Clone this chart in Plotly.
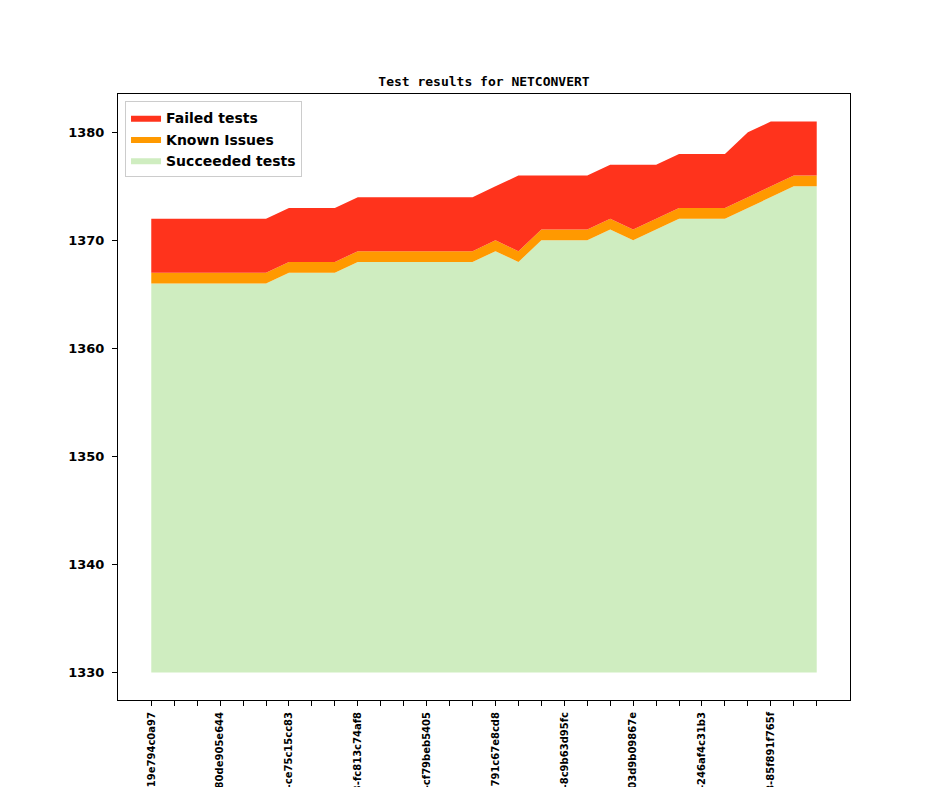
import plotly.graph_objects as go

# Data (one point per commit, 30 commits)
succeeded = [1366, 1366, 1366, 1366, 1366, 1366, 1367, 1367, 1367, 1368,
             1368, 1368, 1368, 1368, 1368, 1369, 1368, 1370, 1370, 1370,
             1371, 1370, 1371, 1372, 1372, 1372, 1373, 1374, 1375, 1375]
known_issues = [1] * 30
failed = [5, 5, 5, 5, 5, 5, 5, 5, 5, 5,
          5, 5, 5, 5, 5, 5, 7, 5, 5, 5,
          5, 6, 5, 5, 5, 5, 6, 6, 5, 5]
baseline = 1330

# Only every third commit gets a label
commit_labels = ["v1_1_0+1803-19e794c0a97", "v1_1_0+1812-80de905e644",
                 "v1_1_0+1825-ce75c15cc83", "v1_1_0+1833-fc813c74af8",
                 "v1_1_0+1840-cf79beb5405", "v1_1_0+1851-791c67e8cd8",
                 "v1_1_0+1860-8c9b63d95fc", "v1_1_0+1871-03d9b09867e",
                 "v1_1_0+1880-246af4c31b3", "v1_1_0+1893-85f891f765f"]
label_every = 3

x = list(range(len(succeeded)))
ticktext = [""] * len(x)
for i, lab in enumerate(commit_labels):
    ticktext[i * label_every] = lab

# cumulative tops of the stacked areas
top_succ = succeeded
top_known = [s + k for s, k in zip(succeeded, known_issues)]
top_failed = [t + f for t, f in zip(top_known, failed)]

fig = go.Figure()
fig.add_trace(go.Scatter(x=x, y=[baseline] * len(x), mode="lines",
                         line=dict(width=0), showlegend=False, hoverinfo="skip"))
fig.add_trace(go.Scatter(x=x, y=top_succ, mode="lines", fill="tonexty",
                         name="Succeeded tests", line=dict(width=0),
                         fillcolor="#cfedc0"))
fig.add_trace(go.Scatter(x=x, y=top_known, mode="lines", fill="tonexty",
                         name="Known Issues", line=dict(width=0),
                         fillcolor="#ff9900"))
fig.add_trace(go.Scatter(x=x, y=top_failed, mode="lines", fill="tonexty",
                         name="Failed tests", line=dict(width=0),
                         fillcolor="#ff331c"))

bold = dict(family="DejaVu Sans", size=13, color="black", weight="bold")

# page has an 8px body margin, so margins are shifted by 8px
fig.update_layout(
    width=944, height=787,
    margin=dict(l=110, r=102, t=86, b=95),
    paper_bgcolor="white", plot_bgcolor="white",
    title=dict(text="Test results for NETCONVERT", x=(110 + 366) / 944,
               xanchor="center", y=1 - 73 / 787, yanchor="middle",
               yref="container",
               font=dict(family="DejaVu Sans Mono", size=13, color="black",
                         weight="bold")),
    legend=dict(x=0.0096, y=0.988, xanchor="left", yanchor="top",
                traceorder="reversed",
                font=dict(family="DejaVu Sans", size=14, color="black",
                          weight="bold"),
                bgcolor="white", bordercolor="#cccccc", borderwidth=1,
                tracegroupgap=0),
    font=bold,
)

fig.update_xaxes(range=[-1.45, 30.45], tickvals=x, ticktext=ticktext,
                 tickangle=-90, ticks="outside", ticklen=5, tickcolor="black",
                 tickfont=dict(family="DejaVu Sans", size=10, color="black",
                               weight="bold"),
                 automargin=False, ticklabelstandoff=2,
                 showgrid=False, zeroline=False, showline=True,
                 linecolor="black", linewidth=1, mirror=True)
fig.update_yaxes(range=[1327.45, 1383.55], tickvals=[1330, 1340, 1350, 1360, 1370, 1380],
                 ticks="outside", ticklen=5, tickcolor="black", tickfont=bold,
                 automargin=False, ticklabelstandoff=5,
                 showgrid=False, zeroline=False, showline=True,
                 linecolor="black", linewidth=1, mirror=True)

fig.write_html("out.html")
